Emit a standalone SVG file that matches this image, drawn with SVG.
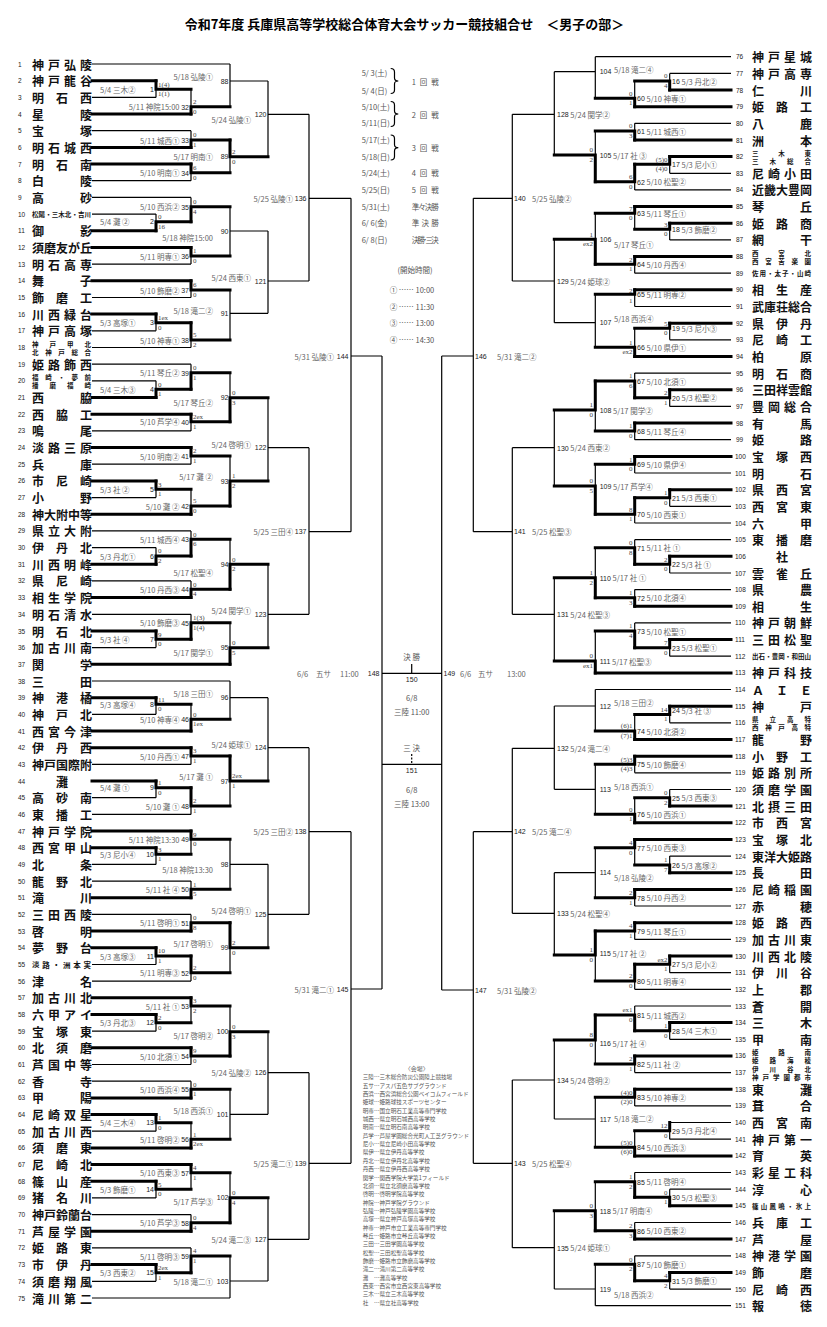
<svg xmlns="http://www.w3.org/2000/svg" width="827" height="1327" viewBox="0 0 827 1327">
<style>
text{font-family:"Noto Sans CJK JP","Noto Sans",sans-serif;dominant-baseline:central}
.nm{font-size:12px;font-weight:700;fill:#111}
.sm{font-size:6.5px;font-weight:700;fill:#111}
.no{font-family:"Liberation Sans",sans-serif;font-size:6.5px;fill:#222}
.lb{font-size:7.5px;fill:#666}
.mn{font-family:"Liberation Sans",sans-serif;font-size:7px;fill:#222}
.sc{font-family:"Liberation Serif",serif;font-size:7px;fill:#444}
.lg{font-size:7.5px;fill:#555}
.vn{font-size:5.6px;fill:#555}
.ttl{font-size:13px;font-weight:700;fill:#000}
.e{text-anchor:end}
.c{text-anchor:middle}
.th{fill:none;stroke:#000;stroke-width:1.2}
.tk{fill:none;stroke:#000;stroke-width:3;stroke-linecap:square}
</style>
<rect width="827" height="1327" fill="#fff"/>
<text class="ttl c" x="404.5" y="23">令和7年度 兵庫県高等学校総合体育大会サッカー競技組合せ　＜男子の部＞</text>

<g id="connectors">
<path class="th" d="M92 64H230M92 97.4H156M92 130.7H191M92 180.7H191M92 197.4H191M92 214.1H156M92 264.1H191M92 297.5H191M92 330.8H156M92 347.5H191M92 364.2H191M92 380.8H156M92 430.9H191M92 464.2H191M92 497.6H156M92 530.9H191M92 547.6H156M92 580.9H191M92 614.3H191M92 647.6H156M92 681H230M92 714.3H156M92 764.4H191M92 797.7H156M92 814.4H191M92 864.4H156M92 881.1H191M92 914.4H191M92 964.5H156M92 981.1H191M92 1031.2H156M92 1064.5H191M92 1081.2H191M92 1131.2H156M92 1197.9H156M92 1214.6H191M92 1247.9H191M92 1281.3H156M92 1298H230"/>
<path class="tk" d="M92 80.7H156M92 114H191M92 147.4H191M92 164.1H191M92 230.8H156M92 247.4H191M92 280.8H191M92 314.1H156M92 397.5H156M92 414.2H191M92 447.5H191M92 480.9H156M92 514.2H191M92 564.3H156M92 597.6H191M92 631H156M92 664.3H230M92 697.7H156M92 731H191M92 747.7H191M92 781H156M92 831.1H191M92 847.7H156M92 897.8H191M92 931.1H191M92 947.8H156M92 997.8H191M92 1014.5H156M92 1047.8H191M92 1097.9H191M92 1114.5H156M92 1147.9H191M92 1164.6H191M92 1181.2H156M92 1231.3H191M92 1264.6H156"/>
<path class="tk" d="M156 80.7V89.3H191M156 230.8V221.7H191M156 314.1V322.7H191M156 397.5V389.3H191M156 480.9V489.3H191M156 564.3V556H191M156 631V639.3H191M156 697.7V704.3H191M156 781V787.7H191M156 847.7V854.3H191M156 947.8V956H191M156 1014.5V1022.7H191M156 1114.5V1122.7H191M156 1181.2V1189.3H191M156 1264.6V1272.7H191"/>
<path class="th" d="M156 89.3V97.4M156 214.1V221.7M156 322.7V330.8M156 380.8V389.3M156 489.3V497.6M156 547.6V556M156 639.3V647.6M156 704.3V714.3M156 787.7V797.7M156 854.3V864.4M156 956V964.5M156 1022.7V1031.2M156 1122.7V1131.2M156 1189.3V1197.9M156 1272.7V1281.3"/>
<path class="tk" d="M191 114V106.7H230M191 147.4V140H230M191 164.1V172.7H230M191 221.7V206.7H230M191 247.4V256H230M191 280.8V290H230M191 322.7V340H230M191 389.3V372.7H230M191 414.2V421.7H230M191 447.5V456H230M191 514.2V506H230M191 556V539.3H230M191 597.6V589.3H230M191 639.3V622.7H230M191 731V719.3H230M191 747.7V756H230M191 787.7V806H230M191 831.1V839.3H230M191 897.8V889.3H230M191 931.1V922.7H230M191 956V972.7H230M191 997.8V1006H230M191 1047.8V1056H230M191 1097.9V1089.3H230M191 1147.9V1139.3H230M191 1164.6V1172.7H230M191 1231.3V1222.7H230M191 1272.7V1256H230"/>
<path class="th" d="M191 89.3V106.7M191 130.7V140M191 172.7V180.7M191 197.4V206.7M191 256V264.1M191 290V297.5M191 340V347.5M191 364.2V372.7M191 421.7V430.9M191 456V464.2M191 489.3V506M191 530.9V539.3M191 580.9V589.3M191 614.3V622.7M191 704.3V719.3M191 756V764.4M191 806V814.4M191 839.3V854.3M191 881.1V889.3M191 914.4V922.7M191 972.7V981.1M191 1006V1022.7M191 1056V1064.5M191 1081.2V1089.3M191 1122.7V1139.3M191 1172.7V1189.3M191 1214.6V1222.7M191 1247.9V1256"/>
<path class="tk" d="M230 140V156.7H268M230 421.7V397.7H268M230 506V481H268M230 589.3V564.3H268M230 664.3V647.7H268M230 756V781H268M230 922.7V947.7H268M230 1056V1031.7H268M230 1222.7V1197.7H268"/>
<path class="th" d="M230 64V106.7M230 81H268M230 156.7V172.7M230 206.7V256M230 231H268M230 290V340M230 313.3H268M230 372.7V397.7M230 456V481M230 539.3V564.3M230 622.7V647.7M230 681V719.3M230 697.7H268M230 781V806M230 839.3V889.3M230 864.3H268M230 947.7V972.7M230 1006V1031.7M230 1089.3V1139.3M230 1114.3H268M230 1172.7V1197.7M230 1256V1298M230 1281H268"/>
<path class="th" d="M268 81V156.7M268 114.3H309M268 231V313.3M268 281H309M268 397.7V481M268 447.7H309M268 564.3V647.7M268 614.3H309M268 697.7V781M268 747.7H309M268 864.3V947.7M268 914.3H309M268 1031.7V1114.3M268 1072.7H309M268 1197.7V1281M268 1239.3H309M309 114.3V281M309 198.3H351M309 447.7V614.3M309 531.7H351M309 747.7V914.3M309 831.7H351M309 1072.7V1239.3M309 1163.3H351M351 198.3V531.7M351 356H382M351 831.7V1163.3M351 989H382M382 356V989M382 673.3H441.7M382 764.3H441.7M441.7 356V990"/>
<path class="th" d="M411.7 664V673.3"/>
<path class="th" d="M411.7 754V763.5" stroke-dasharray="2 1.5"/>
<path class="th" d="M731 56.7H595.3M731 73.4H669.7M731 123.3H634.7M731 173.3H669.7M731 189.9H634.7M731 239.9H669.7M731 273.2H634.7M731 306.5H634.7M731 339.8H669.7M731 373.1H634.7M731 406.4H669.7M731 439.7H634.7M731 473H634.7M731 506.3H669.7M731 523H634.7M731 539.7H634.7M731 573H669.7M731 589.6H634.7M731 622.9H634.7M731 656.2H669.7M731 689.5H595.3M731 722.8H669.7M731 772.8H634.7M731 789.5H669.7M731 856.1H669.7M731 906H634.7M731 939.4H634.7M731 972.7H669.7M731 989.3H634.7M731 1006H634.7M731 1039.3H669.7M731 1072.6H634.7M731 1105.9H634.7M731 1122.5H669.7M731 1139.2H669.7M731 1172.5H634.7M731 1189.2H669.7M731 1222.5H634.7M731 1255.8H634.7M731 1289.1H669.7M731 1305.7H595.3"/>
<path class="tk" d="M731 90H669.7M731 106.7H634.7M731 140H634.7M731 156.6H669.7M731 206.6H634.7M731 223.2H669.7M731 256.5H634.7M731 289.8H634.7M731 323.2H669.7M731 356.5H634.7M731 389.8H669.7M731 423.1H634.7M731 456.4H634.7M731 489.7H669.7M731 556.3H669.7M731 606.3H634.7M731 639.6H669.7M731 672.9H595.3M731 706.2H669.7M731 739.5H634.7M731 756.2H634.7M731 806.1H669.7M731 822.8H634.7M731 839.4H634.7M731 872.7H669.7M731 889.4H634.7M731 922.7H634.7M731 956H669.7M731 1022.6H669.7M731 1055.9H634.7M731 1089.2H634.7M731 1155.9H634.7M731 1205.8H669.7M731 1239.1H634.7M731 1272.4H669.7"/>
<path class="tk" d="M669.7 90V81H634.7M669.7 156.6V164.3H634.7M669.7 223.2V229.3H634.7M669.7 323.2V328.3H634.7M669.7 389.8V397.7H634.7M669.7 489.7V497.7H634.7M669.7 556.3V564.3H634.7M669.7 639.6V647.7H634.7M669.7 706.2V714.5H634.7M669.7 806.1V797.7H634.7M669.7 872.7V865H634.7M669.7 956V964.3H634.7M669.7 1022.6V1030.7H634.7M669.7 1122.5V1130.7H634.7M669.7 1205.8V1197.3H634.7M669.7 1272.4V1280.7H634.7"/>
<path class="th" d="M669.7 73.4V81M669.7 164.3V173.3M669.7 229.3V239.9M669.7 328.3V339.8M669.7 397.7V406.4M669.7 497.7V506.3M669.7 564.3V573M669.7 647.7V656.2M669.7 714.5V722.8M669.7 789.5V797.7M669.7 856.1V865M669.7 964.3V972.7M669.7 1030.7V1039.3M669.7 1130.7V1139.2M669.7 1189.2V1197.3M669.7 1280.7V1289.1"/>
<path class="tk" d="M634.7 106.7V98.3H595.3M634.7 140V131H595.3M634.7 164.3V181.7H595.3M634.7 206.6V213.3H595.3M634.7 256.5V264.3H595.3M634.7 289.8V294.3H595.3M634.7 356.5V347.3H595.3M634.7 397.7V381H595.3M634.7 423.1V431H595.3M634.7 456.4V464.3H595.3M634.7 497.7V514.3H595.3M634.7 564.3V547.7H595.3M634.7 606.3V597.7H595.3M634.7 647.7V631H595.3M634.7 739.5V731H595.3M634.7 756.2V764.3H595.3M634.7 822.8V814.3H595.3M634.7 839.4V847.7H595.3M634.7 889.4V897.7H595.3M634.7 922.7V931H595.3M634.7 964.3V981H595.3M634.7 1030.7V1015H595.3M634.7 1055.9V1064H595.3M634.7 1089.2V1097.3H595.3M634.7 1155.9V1147.3H595.3M634.7 1197.3V1181.7H595.3M634.7 1239.1V1230.7H595.3M634.7 1280.7V1264.3H595.3"/>
<path class="th" d="M634.7 81V98.3M634.7 123.3V131M634.7 181.7V189.9M634.7 213.3V229.3M634.7 264.3V273.2M634.7 294.3V306.5M634.7 328.3V347.3M634.7 373.1V381M634.7 431V439.7M634.7 464.3V473M634.7 514.3V523M634.7 539.7V547.7M634.7 589.6V597.7M634.7 622.9V631M634.7 714.5V731M634.7 764.3V772.8M634.7 797.7V814.3M634.7 847.7V865M634.7 897.7V906M634.7 931V939.4M634.7 981V989.3M634.7 1006V1015M634.7 1064V1072.6M634.7 1097.3V1105.9M634.7 1130.7V1147.3M634.7 1172.5V1181.7M634.7 1222.5V1230.7M634.7 1255.8V1264.3"/>
<path class="tk" d="M595.3 181.7V155H554.3M595.3 264.3V239.3H554.3M595.3 381V410H554.3M595.3 514.3V486H554.3M595.3 597.7V577.7H554.3M595.3 672.9V661H554.3M595.3 931V955H554.3M595.3 1015V1040H554.3M595.3 1230.7V1210.7H554.3"/>
<path class="th" d="M595.3 56.7V98.3M595.3 71.7H554.3M595.3 131V155M595.3 213.3V239.3M595.3 294.3V347.3M595.3 322.7H554.3M595.3 410V431M595.3 464.3V486M595.3 547.7V577.7M595.3 631V661M595.3 689.5V731M595.3 706H554.3M595.3 764.3V814.3M595.3 789.3H554.3M595.3 847.7V897.7M595.3 872.7H554.3M595.3 955V981M595.3 1040V1064M595.3 1097.3V1147.3M595.3 1119H554.3M595.3 1181.7V1210.7M595.3 1264.3V1305.7M595.3 1289H554.3"/>
<path class="th" d="M554.3 71.7V155M554.3 114.3H512.3M554.3 239.3V322.7M554.3 281H512.3M554.3 410V486M554.3 447.7H512.3M554.3 577.7V661M554.3 614.3H512.3M554.3 706V789.3M554.3 748.3H512.3M554.3 872.7V955M554.3 913.3H512.3M554.3 1040V1119M554.3 1080H512.3M554.3 1210.7V1289M554.3 1247.7H512.3M512.3 114.3V281M512.3 198.3H473.3M512.3 447.7V614.3M512.3 531.7H473.3M512.3 748.3V913.3M512.3 831.7H473.3M512.3 1080V1247.7M512.3 1163.3H473.3M473.3 198.3V531.7M473.3 356H441.7M473.3 831.7V1163.3M473.3 990H441.7"/>
<path class="th" d="M390.7 68.5Q394.5 68.5 394.5 72V78Q394.5 81 398.3 81Q394.5 81 394.5 84V90Q394.5 93.5 390.7 93.5M390.7 101.5Q394.5 101.5 394.5 105V111Q394.5 114 398.3 114Q394.5 114 394.5 117V123Q394.5 126.5 390.7 126.5M390.7 135Q394.5 135 394.5 138.5V144.5Q394.5 147.7 398.3 147.7Q394.5 147.7 394.5 151V156.5Q394.5 160 390.7 160" stroke-width="1"/>
</g>

<g id="teams-left">
<g id="t1"><text class="no" x="18" y="64">1</text><text class="nm" x="32 48 64 80" y="64">神戸弘陵</text></g>
<g id="t2"><text class="no" x="18" y="80.7">2</text><text class="nm" x="32 48 64 80" y="80.7">神戸龍谷</text></g>
<g id="t3"><text class="no" x="18" y="97.4">3</text><text class="nm" x="32 56 80" y="97.4">明石西</text></g>
<g id="t4"><text class="no" x="18" y="114">4</text><text class="nm" x="32 80" y="114">星陵</text></g>
<g id="t5"><text class="no" x="18" y="130.7">5</text><text class="nm" x="32 80" y="130.7">宝塚</text></g>
<g id="t6"><text class="no" x="18" y="147.4">6</text><text class="nm" x="32 48 64 80" y="147.4">明石城西</text></g>
<g id="t7"><text class="no" x="18" y="164.1">7</text><text class="nm" x="32 56 80" y="164.1">明石南</text></g>
<g id="t8"><text class="no" x="18" y="180.7">8</text><text class="nm" x="32 80" y="180.7">白陵</text></g>
<g id="t9"><text class="no" x="18" y="197.4">9</text><text class="nm" x="32 80" y="197.4">高砂</text></g>
<g id="t10"><text class="no" x="18" y="214.1">10</text><text class="sm" x="32" y="214.1" textLength="59" lengthAdjust="spacing">松陽・三木北・吉川</text></g>
<g id="t11"><text class="no" x="18" y="230.8">11</text><text class="nm" x="32 80" y="230.8">御影</text></g>
<g id="t12"><text class="no" x="18" y="247.4">12</text><text class="nm" x="32 44 56 68 80" y="247.4">須磨友が丘</text></g>
<g id="t13"><text class="no" x="18" y="264.1">13</text><text class="nm" x="32 48 64 80" y="264.1">明石高専</text></g>
<g id="t14"><text class="no" x="18" y="280.8">14</text><text class="nm" x="32 80" y="280.8">舞子</text></g>
<g id="t15"><text class="no" x="18" y="297.5">15</text><text class="nm" x="32 56 80" y="297.5">飾磨工</text></g>
<g id="t16"><text class="no" x="18" y="314.1">16</text><text class="nm" x="32 48 64 80" y="314.1">川西緑台</text></g>
<g id="t17"><text class="no" x="18" y="330.8">17</text><text class="nm" x="32 48 64 80" y="330.8">神戸高塚</text></g>
<g id="t18"><text class="no" x="18" y="347.5">18</text><text class="sm" x="32" y="343.5" textLength="59" lengthAdjust="spacing">神戸甲北</text><text class="sm" x="32" y="351.5" textLength="59" lengthAdjust="spacing">北神戸総合</text></g>
<g id="t19"><text class="no" x="18" y="364.2">19</text><text class="nm" x="32 48 64 80" y="364.2">姫路飾西</text></g>
<g id="t20"><text class="no" x="18" y="380.8">20</text><text class="sm" x="32" y="376.8" textLength="59" lengthAdjust="spacing">福崎・夢前</text><text class="sm" x="32" y="384.8" textLength="59" lengthAdjust="spacing">播磨福崎</text></g>
<g id="t21"><text class="no" x="18" y="397.5">21</text><text class="nm" x="32 80" y="397.5">西脇</text></g>
<g id="t22"><text class="no" x="18" y="414.2">22</text><text class="nm" x="32 56 80" y="414.2">西脇工</text></g>
<g id="t23"><text class="no" x="18" y="430.9">23</text><text class="nm" x="32 80" y="430.9">鳴尾</text></g>
<g id="t24"><text class="no" x="18" y="447.5">24</text><text class="nm" x="32 48 64 80" y="447.5">淡路三原</text></g>
<g id="t25"><text class="no" x="18" y="464.2">25</text><text class="nm" x="32 80" y="464.2">兵庫</text></g>
<g id="t26"><text class="no" x="18" y="480.9">26</text><text class="nm" x="32 56 80" y="480.9">市尼崎</text></g>
<g id="t27"><text class="no" x="18" y="497.6">27</text><text class="nm" x="32 80" y="497.6">小野</text></g>
<g id="t28"><text class="no" x="18" y="514.2">28</text><text class="nm" x="32 44 56 68 80" y="514.2">神大附中等</text></g>
<g id="t29"><text class="no" x="18" y="530.9">29</text><text class="nm" x="32 48 64 80" y="530.9">県立大附</text></g>
<g id="t30"><text class="no" x="18" y="547.6">30</text><text class="nm" x="32 56 80" y="547.6">伊丹北</text></g>
<g id="t31"><text class="no" x="18" y="564.3">31</text><text class="nm" x="32 48 64 80" y="564.3">川西明峰</text></g>
<g id="t32"><text class="no" x="18" y="580.9">32</text><text class="nm" x="32 56 80" y="580.9">県尼崎</text></g>
<g id="t33"><text class="no" x="18" y="597.6">33</text><text class="nm" x="32 48 64 80" y="597.6">相生学院</text></g>
<g id="t34"><text class="no" x="18" y="614.3">34</text><text class="nm" x="32 48 64 80" y="614.3">明石清水</text></g>
<g id="t35"><text class="no" x="18" y="631">35</text><text class="nm" x="32 56 80" y="631">明石北</text></g>
<g id="t36"><text class="no" x="18" y="647.6">36</text><text class="nm" x="32 48 64 80" y="647.6">加古川南</text></g>
<g id="t37"><text class="no" x="18" y="664.3">37</text><text class="nm" x="32 80" y="664.3">関学</text></g>
<g id="t38"><text class="no" x="18" y="681">38</text><text class="nm" x="32 80" y="681">三田</text></g>
<g id="t39"><text class="no" x="18" y="697.7">39</text><text class="nm" x="32 56 80" y="697.7">神港橘</text></g>
<g id="t40"><text class="no" x="18" y="714.3">40</text><text class="nm" x="32 56 80" y="714.3">神戸北</text></g>
<g id="t41"><text class="no" x="18" y="731">41</text><text class="nm" x="32 48 64 80" y="731">西宮今津</text></g>
<g id="t42"><text class="no" x="18" y="747.7">42</text><text class="nm" x="32 56 80" y="747.7">伊丹西</text></g>
<g id="t43"><text class="no" x="18" y="764.4">43</text><text class="nm" x="32 44 56 68 80" y="764.4">神戸国際附</text></g>
<g id="t44"><text class="no" x="18" y="781">44</text><text class="nm" x="56" y="781">灘</text></g>
<g id="t45"><text class="no" x="18" y="797.7">45</text><text class="nm" x="32 56 80" y="797.7">高砂南</text></g>
<g id="t46"><text class="no" x="18" y="814.4">46</text><text class="nm" x="32 56 80" y="814.4">東播工</text></g>
<g id="t47"><text class="no" x="18" y="831.1">47</text><text class="nm" x="32 48 64 80" y="831.1">神戸学院</text></g>
<g id="t48"><text class="no" x="18" y="847.7">48</text><text class="nm" x="32 48 64 80" y="847.7">西宮甲山</text></g>
<g id="t49"><text class="no" x="18" y="864.4">49</text><text class="nm" x="32 80" y="864.4">北条</text></g>
<g id="t50"><text class="no" x="18" y="881.1">50</text><text class="nm" x="32 56 80" y="881.1">龍野北</text></g>
<g id="t51"><text class="no" x="18" y="897.8">51</text><text class="nm" x="32 80" y="897.8">滝川</text></g>
<g id="t52"><text class="no" x="18" y="914.4">52</text><text class="nm" x="32 48 64 80" y="914.4">三田西陵</text></g>
<g id="t53"><text class="no" x="18" y="931.1">53</text><text class="nm" x="32 80" y="931.1">啓明</text></g>
<g id="t54"><text class="no" x="18" y="947.8">54</text><text class="nm" x="32 56 80" y="947.8">夢野台</text></g>
<g id="t55"><text class="no" x="18" y="964.5">55</text><text class="sm" x="32" y="964.5" textLength="59" lengthAdjust="spacing" style="font-size:7.5px">淡路・洲本実</text></g>
<g id="t56"><text class="no" x="18" y="981.1">56</text><text class="nm" x="32 80" y="981.1">津名</text></g>
<g id="t57"><text class="no" x="18" y="997.8">57</text><text class="nm" x="32 48 64 80" y="997.8">加古川北</text></g>
<g id="t58"><text class="no" x="18" y="1014.5">58</text><text class="nm" x="32 48 64 80" y="1014.5">六甲アイ</text></g>
<g id="t59"><text class="no" x="18" y="1031.2">59</text><text class="nm" x="32 56 80" y="1031.2">宝塚東</text></g>
<g id="t60"><text class="no" x="18" y="1047.8">60</text><text class="nm" x="32 56 80" y="1047.8">北須磨</text></g>
<g id="t61"><text class="no" x="18" y="1064.5">61</text><text class="nm" x="32 48 64 80" y="1064.5">芦国中等</text></g>
<g id="t62"><text class="no" x="18" y="1081.2">62</text><text class="nm" x="32 80" y="1081.2">香寺</text></g>
<g id="t63"><text class="no" x="18" y="1097.9">63</text><text class="nm" x="32 80" y="1097.9">甲陽</text></g>
<g id="t64"><text class="no" x="18" y="1114.5">64</text><text class="nm" x="32 48 64 80" y="1114.5">尼崎双星</text></g>
<g id="t65"><text class="no" x="18" y="1131.2">65</text><text class="nm" x="32 48 64 80" y="1131.2">加古川西</text></g>
<g id="t66"><text class="no" x="18" y="1147.9">66</text><text class="nm" x="32 56 80" y="1147.9">須磨東</text></g>
<g id="t67"><text class="no" x="18" y="1164.6">67</text><text class="nm" x="32 56 80" y="1164.6">尼崎北</text></g>
<g id="t68"><text class="no" x="18" y="1181.2">68</text><text class="nm" x="32 56 80" y="1181.2">篠山産</text></g>
<g id="t69"><text class="no" x="18" y="1197.9">69</text><text class="nm" x="32 56 80" y="1197.9">猪名川</text></g>
<g id="t70"><text class="no" x="18" y="1214.6">70</text><text class="nm" x="32 44 56 68 80" y="1214.6">神戸鈴蘭台</text></g>
<g id="t71"><text class="no" x="18" y="1231.3">71</text><text class="nm" x="32 48 64 80" y="1231.3">芦屋学園</text></g>
<g id="t72"><text class="no" x="18" y="1247.9">72</text><text class="nm" x="32 56 80" y="1247.9">姫路東</text></g>
<g id="t73"><text class="no" x="18" y="1264.6">73</text><text class="nm" x="32 56 80" y="1264.6">市伊丹</text></g>
<g id="t74"><text class="no" x="18" y="1281.3">74</text><text class="nm" x="32 48 64 80" y="1281.3">須磨翔風</text></g>
<g id="t75"><text class="no" x="18" y="1298">75</text><text class="nm" x="32 48 64 80" y="1298">滝川第二</text></g>
</g>

<g id="teams-right">
<g id="t76"><text class="no" x="736" y="56.7">76</text><text class="nm" x="752 768 784 800" y="56.7">神戸星城</text></g>
<g id="t77"><text class="no" x="736" y="73.4">77</text><text class="nm" x="752 768 784 800" y="73.4">神戸高専</text></g>
<g id="t78"><text class="no" x="736" y="90">78</text><text class="nm" x="752 800" y="90">仁川</text></g>
<g id="t79"><text class="no" x="736" y="106.7">79</text><text class="nm" x="752 776 800" y="106.7">姫路工</text></g>
<g id="t80"><text class="no" x="736" y="123.3">80</text><text class="nm" x="752 800" y="123.3">八鹿</text></g>
<g id="t81"><text class="no" x="736" y="140">81</text><text class="nm" x="752 800" y="140">洲本</text></g>
<g id="t82"><text class="no" x="736" y="156.6">82</text><text class="sm" x="752" y="152.6" textLength="59" lengthAdjust="spacing">三木東</text><text class="sm" x="752" y="160.6" textLength="59" lengthAdjust="spacing">三木総合</text></g>
<g id="t83"><text class="no" x="736" y="173.3">83</text><text class="nm" x="752 768 784 800" y="173.3">尼崎小田</text></g>
<g id="t84"><text class="no" x="736" y="189.9">84</text><text class="nm" x="752 764 776 788 800" y="189.9">近畿大豊岡</text></g>
<g id="t85"><text class="no" x="736" y="206.6">85</text><text class="nm" x="752 800" y="206.6">琴丘</text></g>
<g id="t86"><text class="no" x="736" y="223.2">86</text><text class="nm" x="752 776 800" y="223.2">姫路商</text></g>
<g id="t87"><text class="no" x="736" y="239.9">87</text><text class="nm" x="752 800" y="239.9">網干</text></g>
<g id="t88"><text class="no" x="736" y="256.5">88</text><text class="sm" x="752" y="252.5" textLength="59" lengthAdjust="spacing">西宮北</text><text class="sm" x="752" y="260.5" textLength="59" lengthAdjust="spacing">西宮苦楽園</text></g>
<g id="t89"><text class="no" x="736" y="273.2">89</text><text class="sm" x="752" y="273.2" textLength="59" lengthAdjust="spacing">佐用・太子・山崎</text></g>
<g id="t90"><text class="no" x="736" y="289.8">90</text><text class="nm" x="752 776 800" y="289.8">相生産</text></g>
<g id="t91"><text class="no" x="736" y="306.5">91</text><text class="nm" x="752 764 776 788 800" y="306.5">武庫荘総合</text></g>
<g id="t92"><text class="no" x="736" y="323.2">92</text><text class="nm" x="752 776 800" y="323.2">県伊丹</text></g>
<g id="t93"><text class="no" x="736" y="339.8">93</text><text class="nm" x="752 776 800" y="339.8">尼崎工</text></g>
<g id="t94"><text class="no" x="736" y="356.5">94</text><text class="nm" x="752 800" y="356.5">柏原</text></g>
<g id="t95"><text class="no" x="736" y="373.1">95</text><text class="nm" x="752 776 800" y="373.1">明石商</text></g>
<g id="t96"><text class="no" x="736" y="389.8">96</text><text class="nm" x="752 764 776 788 800" y="389.8">三田祥雲館</text></g>
<g id="t97"><text class="no" x="736" y="406.4">97</text><text class="nm" x="752 768 784 800" y="406.4">豊岡総合</text></g>
<g id="t98"><text class="no" x="736" y="423.1">98</text><text class="nm" x="752 800" y="423.1">有馬</text></g>
<g id="t99"><text class="no" x="736" y="439.7">99</text><text class="nm" x="752 800" y="439.7">姫路</text></g>
<g id="t100"><text class="no" x="735" y="456.4">100</text><text class="nm" x="752 776 800" y="456.4">宝塚西</text></g>
<g id="t101"><text class="no" x="735" y="473">101</text><text class="nm" x="752 800" y="473">明石</text></g>
<g id="t102"><text class="no" x="735" y="489.7">102</text><text class="nm" x="752 776 800" y="489.7">県西宮</text></g>
<g id="t103"><text class="no" x="735" y="506.3">103</text><text class="nm" x="752 776 800" y="506.3">西宮東</text></g>
<g id="t104"><text class="no" x="735" y="523">104</text><text class="nm" x="752 800" y="523">六甲</text></g>
<g id="t105"><text class="no" x="735" y="539.7">105</text><text class="nm" x="752 776 800" y="539.7">東播磨</text></g>
<g id="t106"><text class="no" x="735" y="556.3">106</text><text class="nm" x="776" y="556.3">社</text></g>
<g id="t107"><text class="no" x="735" y="573">107</text><text class="nm" x="752 776 800" y="573">雲雀丘</text></g>
<g id="t108"><text class="no" x="735" y="589.6">108</text><text class="nm" x="752 800" y="589.6">県農</text></g>
<g id="t109"><text class="no" x="735" y="606.3">109</text><text class="nm" x="752 800" y="606.3">相生</text></g>
<g id="t110"><text class="no" x="735" y="622.9">110</text><text class="nm" x="752 768 784 800" y="622.9">神戸朝鮮</text></g>
<g id="t111"><text class="no" x="735" y="639.6">111</text><text class="nm" x="752 768 784 800" y="639.6">三田松聖</text></g>
<g id="t112"><text class="no" x="735" y="656.2">112</text><text class="sm" x="752" y="656.2" textLength="59" lengthAdjust="spacing">出石・豊岡・和田山</text></g>
<g id="t113"><text class="no" x="735" y="672.9">113</text><text class="nm" x="752 768 784 800" y="672.9">神戸科技</text></g>
<g id="t114"><text class="no" x="735" y="689.5">114</text><text class="nm" x="752 776 800" y="689.5">ＡＩＥ</text></g>
<g id="t115"><text class="no" x="735" y="706.2">115</text><text class="nm" x="752 800" y="706.2">神戸</text></g>
<g id="t116"><text class="no" x="735" y="722.8">116</text><text class="sm" x="752" y="718.8" textLength="59" lengthAdjust="spacing">県立高特</text><text class="sm" x="752" y="726.8" textLength="59" lengthAdjust="spacing">西神戸高特</text></g>
<g id="t117"><text class="no" x="735" y="739.5">117</text><text class="nm" x="752 800" y="739.5">龍野</text></g>
<g id="t118"><text class="no" x="735" y="756.2">118</text><text class="nm" x="752 776 800" y="756.2">小野工</text></g>
<g id="t119"><text class="no" x="735" y="772.8">119</text><text class="nm" x="752 768 784 800" y="772.8">姫路別所</text></g>
<g id="t120"><text class="no" x="735" y="789.5">120</text><text class="nm" x="752 768 784 800" y="789.5">須磨学園</text></g>
<g id="t121"><text class="no" x="735" y="806.1">121</text><text class="nm" x="752 768 784 800" y="806.1">北摂三田</text></g>
<g id="t122"><text class="no" x="735" y="822.8">122</text><text class="nm" x="752 776 800" y="822.8">市西宮</text></g>
<g id="t123"><text class="no" x="735" y="839.4">123</text><text class="nm" x="752 776 800" y="839.4">宝塚北</text></g>
<g id="t124"><text class="no" x="735" y="856.1">124</text><text class="nm" x="752 764 776 788 800" y="856.1">東洋大姫路</text></g>
<g id="t125"><text class="no" x="735" y="872.7">125</text><text class="nm" x="752 800" y="872.7">長田</text></g>
<g id="t126"><text class="no" x="735" y="889.4">126</text><text class="nm" x="752 768 784 800" y="889.4">尼崎稲園</text></g>
<g id="t127"><text class="no" x="735" y="906">127</text><text class="nm" x="752 800" y="906">赤穂</text></g>
<g id="t128"><text class="no" x="735" y="922.7">128</text><text class="nm" x="752 776 800" y="922.7">姫路西</text></g>
<g id="t129"><text class="no" x="735" y="939.4">129</text><text class="nm" x="752 768 784 800" y="939.4">加古川東</text></g>
<g id="t130"><text class="no" x="735" y="956">130</text><text class="nm" x="752 768 784 800" y="956">川西北陵</text></g>
<g id="t131"><text class="no" x="735" y="972.7">131</text><text class="nm" x="752 776 800" y="972.7">伊川谷</text></g>
<g id="t132"><text class="no" x="735" y="989.3">132</text><text class="nm" x="752 800" y="989.3">上郡</text></g>
<g id="t133"><text class="no" x="735" y="1006">133</text><text class="nm" x="752 800" y="1006">蒼開</text></g>
<g id="t134"><text class="no" x="735" y="1022.6">134</text><text class="nm" x="752 800" y="1022.6">三木</text></g>
<g id="t135"><text class="no" x="735" y="1039.3">135</text><text class="nm" x="752 800" y="1039.3">甲南</text></g>
<g id="t136"><text class="no" x="735" y="1055.9">136</text><text class="sm" x="752" y="1052" textLength="59" lengthAdjust="spacing">姫路南</text><text class="sm" x="752" y="1060" textLength="59" lengthAdjust="spacing">姫路海稜</text></g>
<g id="t137"><text class="no" x="735" y="1072.6">137</text><text class="sm" x="752" y="1068.6" textLength="59" lengthAdjust="spacing">伊川谷北</text><text class="sm" x="752" y="1076.6" textLength="59" lengthAdjust="spacing">神戸学園都市</text></g>
<g id="t138"><text class="no" x="735" y="1089.2">138</text><text class="nm" x="752 800" y="1089.2">東灘</text></g>
<g id="t139"><text class="no" x="735" y="1105.9">139</text><text class="nm" x="752 800" y="1105.9">葺合</text></g>
<g id="t140"><text class="no" x="735" y="1122.5">140</text><text class="nm" x="752 776 800" y="1122.5">西宮南</text></g>
<g id="t141"><text class="no" x="735" y="1139.2">141</text><text class="nm" x="752 768 784 800" y="1139.2">神戸第一</text></g>
<g id="t142"><text class="no" x="735" y="1155.9">142</text><text class="nm" x="752 800" y="1155.9">育英</text></g>
<g id="t143"><text class="no" x="735" y="1172.5">143</text><text class="nm" x="752 768 784 800" y="1172.5">彩星工科</text></g>
<g id="t144"><text class="no" x="735" y="1189.2">144</text><text class="nm" x="752 800" y="1189.2">淳心</text></g>
<g id="t145"><text class="no" x="735" y="1205.8">145</text><text class="sm" x="752" y="1205.8" textLength="59" lengthAdjust="spacing">篠山鳳鳴・氷上</text></g>
<g id="t146"><text class="no" x="735" y="1222.5">146</text><text class="nm" x="752 776 800" y="1222.5">兵庫工</text></g>
<g id="t147"><text class="no" x="735" y="1239.1">147</text><text class="nm" x="752 800" y="1239.1">芦屋</text></g>
<g id="t148"><text class="no" x="735" y="1255.8">148</text><text class="nm" x="752 768 784 800" y="1255.8">神港学園</text></g>
<g id="t149"><text class="no" x="735" y="1272.4">149</text><text class="nm" x="752 800" y="1272.4">飾磨</text></g>
<g id="t150"><text class="no" x="735" y="1289.1">150</text><text class="nm" x="752 776 800" y="1289.1">尼崎西</text></g>
<g id="t151"><text class="no" x="735" y="1305.7">151</text><text class="nm" x="752 800" y="1305.7">報徳</text></g>
</g>

<g id="matches-left">
<g id="m1"><text class="lb" x="100" y="89.3">5/4 三木②</text><text class="mn e" x="154" y="89.3">1</text><text class="sc" x="158" y="84.5">1(4)</text><text class="sc" x="158" y="94.1">1(1)</text></g>
<g id="m2"><text class="lb" x="100" y="221.7">5/4 灘 ②</text><text class="mn e" x="154" y="221.7">2</text><text class="sc" x="158" y="216.9">0</text><text class="sc" x="158" y="226.5">16</text></g>
<g id="m3"><text class="lb" x="100" y="322.7">5/3 高塚①</text><text class="mn e" x="154" y="322.7">3</text><text class="sc" x="158" y="317.9">1ex</text><text class="sc" x="158" y="327.5">0</text></g>
<g id="m4"><text class="lb" x="100" y="389.3">5/4 三木③</text><text class="mn e" x="154" y="389.3">4</text><text class="sc" x="158" y="384.5">0</text><text class="sc" x="158" y="394.1">1</text></g>
<g id="m5"><text class="lb" x="100" y="489.3">5/3 社 ②</text><text class="mn e" x="154" y="489.3">5</text><text class="sc" x="158" y="484.5">3</text><text class="sc" x="158" y="494.1">1</text></g>
<g id="m6"><text class="lb" x="100" y="556">5/3 丹北①</text><text class="mn e" x="154" y="556">6</text><text class="sc" x="158" y="551.2">0</text><text class="sc" x="158" y="560.8">2</text></g>
<g id="m7"><text class="lb" x="100" y="639.3">5/3 社 ④</text><text class="mn e" x="154" y="639.3">7</text><text class="sc" x="158" y="634.5">9</text><text class="sc" x="158" y="644.1">0</text></g>
<g id="m8"><text class="lb" x="100" y="704.3">5/3 高塚④</text><text class="mn e" x="154" y="704.3">8</text><text class="sc" x="158" y="699.5">11</text><text class="sc" x="158" y="709.1">0</text></g>
<g id="m9"><text class="lb" x="100" y="787.7">5/4 灘 ①</text><text class="mn e" x="154" y="787.7">9</text><text class="sc" x="158" y="782.9">1</text><text class="sc" x="158" y="792.5">0</text></g>
<g id="m10"><text class="lb" x="100" y="854.3">5/3 尼小④</text><text class="mn e" x="154" y="854.3">10</text><text class="sc" x="158" y="849.5">3</text><text class="sc" x="158" y="859.1">1</text></g>
<g id="m11"><text class="lb" x="100" y="956">5/3 高塚③</text><text class="mn e" x="154" y="956">11</text><text class="sc" x="158" y="951.2">10</text><text class="sc" x="158" y="960.8">1</text></g>
<g id="m12"><text class="lb" x="100" y="1022.7">5/3 丹北③</text><text class="mn e" x="154" y="1022.7">12</text><text class="sc" x="158" y="1017.9">2</text><text class="sc" x="158" y="1027.5">0</text></g>
<g id="m13"><text class="lb" x="100" y="1122.7">5/4 三木④</text><text class="mn e" x="154" y="1122.7">13</text><text class="sc" x="158" y="1117.9">1</text><text class="sc" x="158" y="1127.5">0</text></g>
<g id="m14"><text class="lb" x="100" y="1189.3">5/3 飾磨①</text><text class="mn e" x="154" y="1189.3">14</text><text class="sc" x="158" y="1184.5">5</text><text class="sc" x="158" y="1194.1">0</text></g>
<g id="m15"><text class="lb" x="100" y="1272.7">5/3 西東②</text><text class="mn e" x="154" y="1272.7">15</text><text class="sc" x="158" y="1267.9">2ex</text><text class="sc" x="158" y="1277.5">1</text></g>
<g id="m32"><text class="lb e" x="189" y="106.7">5/11 神院15:00 <tspan class="mn">32</tspan></text><text class="sc" x="193" y="101.9">2</text><text class="sc" x="193" y="111.5">0</text></g>
<g id="m33"><text class="lb e" x="189" y="140">5/11 城西① <tspan class="mn">33</tspan></text><text class="sc" x="193" y="135.2">0</text><text class="sc" x="193" y="144.8">1</text></g>
<g id="m34"><text class="lb e" x="189" y="172.7">5/10 明南① <tspan class="mn">34</tspan></text><text class="sc" x="193" y="167.9">6</text><text class="sc" x="193" y="177.5">0</text></g>
<g id="m35"><text class="lb e" x="189" y="206.7">5/10 西浜② <tspan class="mn">35</tspan></text><text class="sc" x="193" y="201.9">0</text><text class="sc" x="193" y="211.5">4</text></g>
<g id="m36"><text class="lb e" x="189" y="256">5/11 明専① <tspan class="mn">36</tspan></text><text class="sc" x="193" y="251.2">1</text><text class="sc" x="193" y="260.8">0</text></g>
<g id="m37"><text class="lb e" x="189" y="290">5/10 飾磨② <tspan class="mn">37</tspan></text><text class="sc" x="193" y="285.2">6</text><text class="sc" x="193" y="294.8">0</text></g>
<g id="m38"><text class="lb e" x="189" y="340">5/10 神専① <tspan class="mn">38</tspan></text><text class="sc" x="193" y="335.2">5</text><text class="sc" x="193" y="344.8">2</text></g>
<g id="m39"><text class="lb e" x="189" y="372.7">5/11 琴丘② <tspan class="mn">39</tspan></text><text class="sc" x="193" y="367.9">0</text><text class="sc" x="193" y="377.5">1</text></g>
<g id="m40"><text class="lb e" x="189" y="421.7">5/10 芦学④ <tspan class="mn">40</tspan></text><text class="sc" x="193" y="416.9">2ex</text><text class="sc" x="193" y="426.5">1</text></g>
<g id="m41"><text class="lb e" x="189" y="456">5/10 明南② <tspan class="mn">41</tspan></text><text class="sc" x="193" y="451.2">2</text><text class="sc" x="193" y="460.8">1</text></g>
<g id="m42"><text class="lb e" x="189" y="506">5/10 灘 ② <tspan class="mn">42</tspan></text><text class="sc" x="193" y="501.2">5</text><text class="sc" x="193" y="510.8">0</text></g>
<g id="m43"><text class="lb e" x="189" y="539.3">5/11 城西④ <tspan class="mn">43</tspan></text><text class="sc" x="193" y="534.5">0</text><text class="sc" x="193" y="544.1">6</text></g>
<g id="m44"><text class="lb e" x="189" y="589.3">5/10 丹西③ <tspan class="mn">44</tspan></text><text class="sc" x="193" y="584.5">0</text><text class="sc" x="193" y="594.1">4</text></g>
<g id="m45"><text class="lb e" x="189" y="622.7">5/10 飾磨③ <tspan class="mn">45</tspan></text><text class="sc" x="193" y="617.9">1(3)</text><text class="sc" x="193" y="627.5">1(4)</text></g>
<g id="m46"><text class="lb e" x="189" y="719.3">5/10 神専④ <tspan class="mn">46</tspan></text><text class="sc" x="193" y="714.5">0</text><text class="sc" x="193" y="724.1">1ex</text></g>
<g id="m47"><text class="lb e" x="189" y="756">5/10 丹西① <tspan class="mn">47</tspan></text><text class="sc" x="193" y="751.2">3</text><text class="sc" x="193" y="760.8">1</text></g>
<g id="m48"><text class="lb e" x="189" y="806">5/10 灘 ① <tspan class="mn">48</tspan></text><text class="sc" x="193" y="801.2">2</text><text class="sc" x="193" y="810.8">1</text></g>
<g id="m49"><text class="lb e" x="189" y="839.3">5/11 神院13:30 <tspan class="mn">49</tspan></text><text class="sc" x="193" y="834.5">9</text><text class="sc" x="193" y="844.1">0</text></g>
<g id="m50"><text class="lb e" x="189" y="889.3">5/11 社 ④ <tspan class="mn">50</tspan></text><text class="sc" x="193" y="884.5">1</text><text class="sc" x="193" y="894.1">5</text></g>
<g id="m51"><text class="lb e" x="189" y="922.7">5/11 啓明① <tspan class="mn">51</tspan></text><text class="sc" x="193" y="917.9">0</text><text class="sc" x="193" y="927.5">8</text></g>
<g id="m52"><text class="lb e" x="189" y="972.7">5/11 明専③ <tspan class="mn">52</tspan></text><text class="sc" x="193" y="967.9">2</text><text class="sc" x="193" y="977.5">0</text></g>
<g id="m53"><text class="lb e" x="189" y="1006">5/11 社 ① <tspan class="mn">53</tspan></text><text class="sc" x="193" y="1001.2">3</text><text class="sc" x="193" y="1010.8">2</text></g>
<g id="m54"><text class="lb e" x="189" y="1056">5/10 北須① <tspan class="mn">54</tspan></text><text class="sc" x="193" y="1051.2">9</text><text class="sc" x="193" y="1060.8">0</text></g>
<g id="m55"><text class="lb e" x="189" y="1089.3">5/10 西浜④ <tspan class="mn">55</tspan></text><text class="sc" x="193" y="1084.5">0</text><text class="sc" x="193" y="1094.1">1</text></g>
<g id="m56"><text class="lb e" x="189" y="1139.3">5/11 啓明② <tspan class="mn">56</tspan></text><text class="sc" x="193" y="1134.5">1</text><text class="sc" x="193" y="1144.1">2ex</text></g>
<g id="m57"><text class="lb e" x="189" y="1172.7">5/10 西東③ <tspan class="mn">57</tspan></text><text class="sc" x="193" y="1167.9">4</text><text class="sc" x="193" y="1177.5">1</text></g>
<g id="m58"><text class="lb e" x="189" y="1222.7">5/10 芦学③ <tspan class="mn">58</tspan></text><text class="sc" x="193" y="1217.9">0</text><text class="sc" x="193" y="1227.5">4</text></g>
<g id="m59"><text class="lb e" x="189" y="1256">5/11 啓明③ <tspan class="mn">59</tspan></text><text class="sc" x="193" y="1251.2">4</text><text class="sc" x="193" y="1260.8">1</text></g>
<g id="m88"><text class="lb e" x="213" y="76.7">5/18 弘陵①</text><text class="mn e" x="228.5" y="81">88</text></g>
<g id="m89"><text class="lb e" x="213" y="156">5/17 明南①</text><text class="mn e" x="228.5" y="156.7">89</text><text class="sc" x="232" y="151.9">2</text><text class="sc" x="232" y="161.5">0</text></g>
<g id="m90"><text class="lb e" x="213" y="237">5/18 神院15:00</text><text class="mn e" x="228.5" y="231">90</text></g>
<g id="m91"><text class="lb e" x="213" y="310">5/18 滝二②</text><text class="mn e" x="228.5" y="313.3">91</text></g>
<g id="m92"><text class="lb e" x="213" y="402.7">5/17 琴丘②</text><text class="mn e" x="228.5" y="397.7">92</text><text class="sc" x="232" y="392.9">0</text><text class="sc" x="232" y="402.5">3</text></g>
<g id="m93"><text class="lb e" x="213" y="476.7">5/17 灘 ②</text><text class="mn e" x="228.5" y="481">93</text><text class="sc" x="232" y="476.2">1</text><text class="sc" x="232" y="485.8">2</text></g>
<g id="m94"><text class="lb e" x="213" y="572.7">5/17 松聖④</text><text class="mn e" x="228.5" y="564.3">94</text><text class="sc" x="232" y="559.5">0</text><text class="sc" x="232" y="569.1">2</text></g>
<g id="m95"><text class="lb e" x="213" y="652.7">5/17 関学①</text><text class="mn e" x="228.5" y="647.7">95</text><text class="sc" x="232" y="642.9">0</text><text class="sc" x="232" y="652.5">5</text></g>
<g id="m96"><text class="lb e" x="213" y="693.3">5/18 三田①</text><text class="mn e" x="228.5" y="697.7">96</text></g>
<g id="m97"><text class="lb e" x="213" y="776.7">5/17 灘 ①</text><text class="mn e" x="228.5" y="781">97</text><text class="sc" x="232" y="776.2">2ex</text><text class="sc" x="232" y="785.8">1</text></g>
<g id="m98"><text class="lb e" x="213" y="869.3">5/18 神院13:30</text><text class="mn e" x="228.5" y="864.3">98</text></g>
<g id="m99"><text class="lb e" x="213" y="943.3">5/17 啓明①</text><text class="mn e" x="228.5" y="947.7">99</text><text class="sc" x="232" y="942.9">2</text><text class="sc" x="232" y="952.5">0</text></g>
<g id="m100"><text class="lb e" x="213" y="1035">5/17 啓明②</text><text class="mn e" x="228.5" y="1031.7">100</text><text class="sc" x="232" y="1026.9">0</text><text class="sc" x="232" y="1036.5">3</text></g>
<g id="m101"><text class="lb e" x="213" y="1110.7">5/18 西浜①</text><text class="mn e" x="228.5" y="1114.3">101</text></g>
<g id="m102"><text class="lb e" x="213" y="1201.7">5/17 芦学③</text><text class="mn e" x="228.5" y="1197.7">102</text><text class="sc" x="232" y="1192.9">0</text><text class="sc" x="232" y="1202.5">4</text></g>
<g id="m103"><text class="lb e" x="213" y="1281">5/18 滝二①</text><text class="mn e" x="228.5" y="1281">103</text></g>
<g id="m120"><text class="lb e" x="251" y="119">5/24 弘陵①</text><text class="mn e" x="266.5" y="114.3">120</text></g>
<g id="m121"><text class="lb e" x="251" y="277">5/24 西東①</text><text class="mn e" x="266.5" y="281">121</text></g>
<g id="m122"><text class="lb e" x="251" y="444.3">5/24 啓明①</text><text class="mn e" x="266.5" y="447.7">122</text></g>
<g id="m123"><text class="lb e" x="251" y="610.7">5/24 関学①</text><text class="mn e" x="266.5" y="614.3">123</text></g>
<g id="m124"><text class="lb e" x="251" y="744">5/24 姫球①</text><text class="mn e" x="266.5" y="747.7">124</text></g>
<g id="m125"><text class="lb e" x="251" y="910">5/24 啓明①</text><text class="mn e" x="266.5" y="914.3">125</text></g>
<g id="m126"><text class="lb e" x="251" y="1072.7">5/24 弘陵②</text><text class="mn e" x="266.5" y="1072.7">126</text></g>
<g id="m127"><text class="lb e" x="251" y="1239.3">5/24 滝二③</text><text class="mn e" x="266.5" y="1239.3">127</text></g>
<g id="m136"><text class="lb e" x="293" y="198.3">5/25 弘陵①</text><text class="mn e" x="306.5" y="198.3">136</text></g>
<g id="m137"><text class="lb e" x="293" y="531.7">5/25 三田④</text><text class="mn e" x="306.5" y="531.7">137</text></g>
<g id="m138"><text class="lb e" x="293" y="831.7">5/25 三田②</text><text class="mn e" x="306.5" y="831.7">138</text></g>
<g id="m139"><text class="lb e" x="293" y="1163.3">5/25 滝二①</text><text class="mn e" x="306.5" y="1163.3">139</text></g>
<g id="m144"><text class="lb e" x="334" y="356">5/31 弘陵①</text><text class="mn e" x="348.5" y="356">144</text></g>
<g id="m145"><text class="lb e" x="334" y="989">5/31 滝二①</text><text class="mn e" x="348.5" y="989">145</text></g>
<g id="m148"><text class="lb" x="297" y="673.3">6/6</text><text class="lb" x="316" y="673.3">五サ</text><text class="lb" x="340" y="673.3">11:00</text><text class="mn e" x="379.5" y="673.3">148</text></g>
</g>

<g id="matches-right">
<g id="m16"><text class="lb" x="672" y="81"><tspan class="mn">16</tspan> 5/3 丹北②</text><text class="sc e" x="667.5" y="76.2">0</text><text class="sc e" x="667.5" y="85.8">4</text></g>
<g id="m17"><text class="lb" x="672" y="164.3"><tspan class="mn">17</tspan> 5/3 尼小①</text><text class="sc e" x="667.5" y="159.5">(5)0</text><text class="sc e" x="667.5" y="169.1">(4)0</text></g>
<g id="m18"><text class="lb" x="672" y="229.3"><tspan class="mn">18</tspan> 5/3 飾磨②</text><text class="sc e" x="667.5" y="224.5">3</text><text class="sc e" x="667.5" y="234.1">0</text></g>
<g id="m19"><text class="lb" x="672" y="328.3"><tspan class="mn">19</tspan> 5/3 尼小③</text><text class="sc e" x="667.5" y="323.5">5</text><text class="sc e" x="667.5" y="333.1">0</text></g>
<g id="m20"><text class="lb" x="672" y="397.7"><tspan class="mn">20</tspan> 5/3 松聖②</text><text class="sc e" x="667.5" y="392.9">2</text><text class="sc e" x="667.5" y="402.5">1</text></g>
<g id="m21"><text class="lb" x="672" y="497.7"><tspan class="mn">21</tspan> 5/3 西東①</text><text class="sc e" x="667.5" y="492.9">1</text><text class="sc e" x="667.5" y="502.5">0</text></g>
<g id="m22"><text class="lb" x="672" y="564.3"><tspan class="mn">22</tspan> 5/3 社 ①</text><text class="sc e" x="667.5" y="559.5">2</text><text class="sc e" x="667.5" y="569.1">0</text></g>
<g id="m23"><text class="lb" x="672" y="647.7"><tspan class="mn">23</tspan> 5/3 松聖①</text><text class="sc e" x="667.5" y="642.9">7</text><text class="sc e" x="667.5" y="652.5">0</text></g>
<g id="m24"><text class="lb" x="672" y="710"><tspan class="mn">24</tspan> 5/3 社 ③</text><text class="sc e" x="667.5" y="709.7">14</text><text class="sc e" x="667.5" y="719.3">1</text></g>
<g id="m25"><text class="lb" x="672" y="797.7"><tspan class="mn">25</tspan> 5/3 西東③</text><text class="sc e" x="667.5" y="792.9">0</text><text class="sc e" x="667.5" y="802.5">2</text></g>
<g id="m26"><text class="lb" x="672" y="865"><tspan class="mn">26</tspan> 5/3 高塚②</text><text class="sc e" x="667.5" y="860.2">1</text><text class="sc e" x="667.5" y="869.8">7</text></g>
<g id="m27"><text class="lb" x="672" y="964.3"><tspan class="mn">27</tspan> 5/3 尼小②</text><text class="sc e" x="667.5" y="959.5">ex2</text><text class="sc e" x="667.5" y="969.1">1</text></g>
<g id="m28"><text class="lb" x="672" y="1030.7"><tspan class="mn">28</tspan> 5/4 三木①</text><text class="sc e" x="667.5" y="1025.9">1</text><text class="sc e" x="667.5" y="1035.5">0</text></g>
<g id="m29"><text class="lb" x="672" y="1130.7"><tspan class="mn">29</tspan> 5/3 丹北④</text><text class="sc e" x="667.5" y="1125.9">12</text><text class="sc e" x="667.5" y="1135.5">0</text></g>
<g id="m30"><text class="lb" x="672" y="1197.3"><tspan class="mn">30</tspan> 5/3 松聖③</text><text class="sc e" x="667.5" y="1192.5">0</text><text class="sc e" x="667.5" y="1202.1">1</text></g>
<g id="m31"><text class="lb" x="672" y="1280.7"><tspan class="mn">31</tspan> 5/3 飾磨①</text><text class="sc e" x="667.5" y="1275.9">4</text><text class="sc e" x="667.5" y="1285.5">2</text></g>
<g id="m60"><text class="lb" x="637" y="98.3"><tspan class="mn">60</tspan> 5/10 神専①</text><text class="sc e" x="632.5" y="93.5">0</text><text class="sc e" x="632.5" y="103.1">1</text></g>
<g id="m61"><text class="lb" x="637" y="131"><tspan class="mn">61</tspan> 5/11 城西①</text><text class="sc e" x="632.5" y="126.2">0</text><text class="sc e" x="632.5" y="135.8">3</text></g>
<g id="m62"><text class="lb" x="637" y="181.7"><tspan class="mn">62</tspan> 5/10 松聖②</text><text class="sc e" x="632.5" y="176.9">6</text><text class="sc e" x="632.5" y="186.5">0</text></g>
<g id="m63"><text class="lb" x="637" y="213.3"><tspan class="mn">63</tspan> 5/11 琴丘①</text><text class="sc e" x="632.5" y="208.5">7</text><text class="sc e" x="632.5" y="218.1">0</text></g>
<g id="m64"><text class="lb" x="637" y="264.3"><tspan class="mn">64</tspan> 5/10 丹西④</text><text class="sc e" x="632.5" y="259.5">2</text><text class="sc e" x="632.5" y="269.1">1</text></g>
<g id="m65"><text class="lb" x="637" y="294.3"><tspan class="mn">65</tspan> 5/11 明専②</text><text class="sc e" x="632.5" y="291">2</text><text class="sc e" x="632.5" y="300.6">1</text></g>
<g id="m66"><text class="lb" x="637" y="347.3"><tspan class="mn">66</tspan> 5/10 県伊①</text><text class="sc e" x="632.5" y="342.5">1</text><text class="sc e" x="632.5" y="352.1">ex2</text></g>
<g id="m67"><text class="lb" x="637" y="381"><tspan class="mn">67</tspan> 5/10 北須①</text><text class="sc e" x="632.5" y="376.2">1</text><text class="sc e" x="632.5" y="385.8">6</text></g>
<g id="m68"><text class="lb" x="637" y="431"><tspan class="mn">68</tspan> 5/11 琴丘④</text><text class="sc e" x="632.5" y="426.2">1</text><text class="sc e" x="632.5" y="435.8">0</text></g>
<g id="m69"><text class="lb" x="637" y="464.3"><tspan class="mn">69</tspan> 5/10 県伊④</text><text class="sc e" x="632.5" y="459.5">1</text><text class="sc e" x="632.5" y="469.1">0</text></g>
<g id="m70"><text class="lb" x="637" y="514.3"><tspan class="mn">70</tspan> 5/10 西東①</text><text class="sc e" x="632.5" y="509.5">8</text><text class="sc e" x="632.5" y="519.1">1</text></g>
<g id="m71"><text class="lb" x="637" y="547.7"><tspan class="mn">71</tspan> 5/11 社 ①</text><text class="sc e" x="632.5" y="542.9">0</text><text class="sc e" x="632.5" y="552.5">8</text></g>
<g id="m72"><text class="lb" x="637" y="597.7"><tspan class="mn">72</tspan> 5/10 北須④</text><text class="sc e" x="632.5" y="592.9">1</text><text class="sc e" x="632.5" y="602.5">3</text></g>
<g id="m73"><text class="lb" x="637" y="631"><tspan class="mn">73</tspan> 5/10 松聖①</text><text class="sc e" x="632.5" y="626.2">1</text><text class="sc e" x="632.5" y="635.8">4</text></g>
<g id="m74"><text class="lb" x="637" y="731"><tspan class="mn">74</tspan> 5/10 北須②</text><text class="sc e" x="632.5" y="726.2">(6)1</text><text class="sc e" x="632.5" y="735.8">(7)1</text></g>
<g id="m75"><text class="lb" x="637" y="764.3"><tspan class="mn">75</tspan> 5/10 飾磨④</text><text class="sc e" x="632.5" y="759.5">(5)3</text><text class="sc e" x="632.5" y="769.1">(4)3</text></g>
<g id="m76"><text class="lb" x="637" y="814.3"><tspan class="mn">76</tspan> 5/10 西浜①</text><text class="sc e" x="632.5" y="809.5">0</text><text class="sc e" x="632.5" y="819.1">1</text></g>
<g id="m77"><text class="lb" x="637" y="847.7"><tspan class="mn">77</tspan> 5/10 西東③</text><text class="sc e" x="632.5" y="842.9">4</text><text class="sc e" x="632.5" y="852.5">0</text></g>
<g id="m78"><text class="lb" x="637" y="897.7"><tspan class="mn">78</tspan> 5/10 丹西②</text><text class="sc e" x="632.5" y="892.9">2</text><text class="sc e" x="632.5" y="902.5">1</text></g>
<g id="m79"><text class="lb" x="637" y="931"><tspan class="mn">79</tspan> 5/11 琴丘①</text><text class="sc e" x="632.5" y="926.2">4</text><text class="sc e" x="632.5" y="935.8">1</text></g>
<g id="m80"><text class="lb" x="637" y="981"><tspan class="mn">80</tspan> 5/11 明専④</text><text class="sc e" x="632.5" y="976.2">2</text><text class="sc e" x="632.5" y="985.8">0</text></g>
<g id="m81"><text class="lb" x="637" y="1015"><tspan class="mn">81</tspan> 5/11 城西②</text><text class="sc e" x="632.5" y="1010.2">ex1</text><text class="sc e" x="632.5" y="1019.8">0</text></g>
<g id="m82"><text class="lb" x="637" y="1064"><tspan class="mn">82</tspan> 5/11 社 ②</text><text class="sc e" x="632.5" y="1059.2">2</text><text class="sc e" x="632.5" y="1068.8">1</text></g>
<g id="m83"><text class="lb" x="637" y="1097.3"><tspan class="mn">83</tspan> 5/10 神専②</text><text class="sc e" x="632.5" y="1092.5">(4)0</text><text class="sc e" x="632.5" y="1102.1">(2)0</text></g>
<g id="m84"><text class="lb" x="637" y="1147.3"><tspan class="mn">84</tspan> 5/10 西浜③</text><text class="sc e" x="632.5" y="1142.5">(5)0</text><text class="sc e" x="632.5" y="1152.1">(6)0</text></g>
<g id="m85"><text class="lb" x="637" y="1181.7"><tspan class="mn">85</tspan> 5/11 啓明④</text><text class="sc e" x="632.5" y="1176.9">1</text><text class="sc e" x="632.5" y="1186.5">2</text></g>
<g id="m86"><text class="lb" x="637" y="1230.7"><tspan class="mn">86</tspan> 5/10 西東②</text><text class="sc e" x="632.5" y="1225.9">2</text><text class="sc e" x="632.5" y="1235.5">3</text></g>
<g id="m87"><text class="lb" x="637" y="1264.3"><tspan class="mn">87</tspan> 5/10 飾磨①</text><text class="sc e" x="632.5" y="1259.5">0</text><text class="sc e" x="632.5" y="1269.1">2</text></g>
<g id="m104"><text class="mn" x="599.7" y="71.7">104</text><text class="lb" x="614" y="69">5/18 滝二④</text></g>
<g id="m105"><text class="lb" x="599.7" y="155"><tspan class="mn">105</tspan> 5/17 社 ③</text><text class="sc e" x="593" y="150.2">0</text><text class="sc e" x="593" y="159.8">2</text></g>
<g id="m106"><text class="mn" x="599.7" y="239.3">106</text><text class="lb" x="614" y="244">5/17 琴丘①</text><text class="sc e" x="593" y="234.5">1</text><text class="sc e" x="593" y="244.1">ex2</text></g>
<g id="m107"><text class="mn" x="599.7" y="322.7">107</text><text class="lb" x="614" y="318">5/18 西浜④</text></g>
<g id="m108"><text class="lb" x="599.7" y="410"><tspan class="mn">108</tspan> 5/17 関学②</text><text class="sc e" x="593" y="405.2">1</text><text class="sc e" x="593" y="414.8">0</text></g>
<g id="m109"><text class="lb" x="599.7" y="486"><tspan class="mn">109</tspan> 5/17 芦学④</text><text class="sc e" x="593" y="481.2">0</text><text class="sc e" x="593" y="490.8">5</text></g>
<g id="m110"><text class="lb" x="599.7" y="577.7"><tspan class="mn">110</tspan> 5/17 社 ①</text><text class="sc e" x="593" y="572.9">1</text><text class="sc e" x="593" y="582.5">2</text></g>
<g id="m111"><text class="lb" x="599.7" y="661"><tspan class="mn">111</tspan> 5/17 松聖③</text><text class="sc e" x="593" y="656.2">0</text><text class="sc e" x="593" y="665.8">ex1</text></g>
<g id="m112"><text class="mn" x="599.7" y="706">112</text><text class="lb" x="614" y="702.7">5/18 三田②</text></g>
<g id="m113"><text class="mn" x="599.7" y="789.3">113</text><text class="lb" x="614" y="786">5/18 西浜①</text></g>
<g id="m114"><text class="mn" x="599.7" y="872.7">114</text><text class="lb" x="614" y="877.7">5/18 弘陵②</text></g>
<g id="m115"><text class="lb" x="599.7" y="953"><tspan class="mn">115</tspan> 5/17 社 ②</text><text class="sc e" x="593" y="950.2">1</text><text class="sc e" x="593" y="959.8">0</text></g>
<g id="m116"><text class="lb" x="599.7" y="1043"><tspan class="mn">116</tspan> 5/17 社 ④</text><text class="sc e" x="593" y="1035.2">8</text><text class="sc e" x="593" y="1044.8">0</text></g>
<g id="m117"><text class="mn" x="599.7" y="1119">117</text><text class="lb" x="614" y="1118">5/18 滝二②</text></g>
<g id="m118"><text class="lb" x="599.7" y="1210.7"><tspan class="mn">118</tspan> 5/17 明南④</text><text class="sc e" x="593" y="1205.9">0</text><text class="sc e" x="593" y="1215.5">3</text></g>
<g id="m119"><text class="mn" x="599.7" y="1289">119</text><text class="lb" x="614" y="1294">5/18 西浜②</text></g>
<g id="m128"><text class="lb" x="557" y="114.3"><tspan class="mn">128</tspan> 5/24 関学②</text></g>
<g id="m129"><text class="lb" x="557" y="281"><tspan class="mn">129</tspan> 5/24 姫球②</text></g>
<g id="m130"><text class="lb" x="557" y="447.7"><tspan class="mn">130</tspan> 5/24 西東②</text></g>
<g id="m131"><text class="lb" x="557" y="614.3"><tspan class="mn">131</tspan> 5/24 松聖③</text></g>
<g id="m132"><text class="lb" x="557" y="748.3"><tspan class="mn">132</tspan> 5/24 滝二④</text></g>
<g id="m133"><text class="lb" x="557" y="913.3"><tspan class="mn">133</tspan> 5/24 松聖④</text></g>
<g id="m134"><text class="lb" x="557" y="1080"><tspan class="mn">134</tspan> 5/24 啓明②</text></g>
<g id="m135"><text class="lb" x="557" y="1247.7"><tspan class="mn">135</tspan> 5/24 姫球①</text></g>
<g id="m140"><text class="mn" x="514" y="198.3">140</text><text class="lb" x="532" y="198.3">5/25 弘陵②</text></g>
<g id="m141"><text class="mn" x="514" y="531.7">141</text><text class="lb" x="532" y="531.7">5/25 松聖③</text></g>
<g id="m142"><text class="mn" x="514" y="831.7">142</text><text class="lb" x="532" y="831.7">5/25 滝二④</text></g>
<g id="m143"><text class="mn" x="514" y="1163.3">143</text><text class="lb" x="532" y="1163.3">5/25 松聖④</text></g>
<g id="m146"><text class="mn" x="475" y="356">146</text><text class="lb" x="497" y="356">5/31 滝二②</text></g>
<g id="m147"><text class="mn" x="475" y="990">147</text><text class="lb" x="497" y="990">5/31 弘陵②</text></g>
<g id="m149"><text class="mn" x="443.5" y="673.3">149</text><text class="lb" x="460" y="673.3">6/6</text><text class="lb" x="478" y="673.3">五サ</text><text class="lb" x="507" y="673.3">13:00</text></g>
</g>

<g id="m150">
<text class="lg c" x="411.7" y="656">決 勝</text>
<text class="mn c" x="411.7" y="679">150</text>
<text class="lg c" x="411.7" y="697.7">6/8</text>
<text class="lg c" x="411.7" y="711.7">三陸 11:00</text>
</g>
<g id="m151">
<text class="lg c" x="411.7" y="747.7">三 決</text>
<text class="mn c" x="411.7" y="770">151</text>
<text class="lg c" x="411.7" y="789.3">6/8</text>
<text class="lg c" x="411.7" y="803.3">三陸 13:00</text>
</g>

<g id="schedule">
<text class="lg" x="361.7" y="72.7">5/ 3(土)</text>
<text class="lg" x="361.7" y="90">5/ 4(日)</text>
<text class="lg" x="361.7" y="106">5/10(土)</text>
<text class="lg" x="361.7" y="122.7">5/11(日)</text>
<text class="lg" x="361.7" y="139.3">5/17(土)</text>
<text class="lg" x="361.7" y="156">5/18(日)</text>
<text class="lg" x="361.7" y="172.7">5/24(土)</text>
<text class="lg" x="361.7" y="189.3">5/25(日)</text>
<text class="lg" x="361.7" y="206">5/31(土)</text>
<text class="lg" x="361.7" y="222.7">6/ 6(金)</text>
<text class="lg" x="361.7" y="239.3">6/ 8(日)</text>
<text class="lg" x="411.7" y="81.7" textLength="27" lengthAdjust="spacing">1 回 戦</text>
<text class="lg" x="411.7" y="114" textLength="27" lengthAdjust="spacing">2 回 戦</text>
<text class="lg" x="411.7" y="147.7" textLength="27" lengthAdjust="spacing">3 回 戦</text>
<text class="lg" x="411.7" y="172.7" textLength="27" lengthAdjust="spacing">4 回 戦</text>
<text class="lg" x="411.7" y="189.3" textLength="27" lengthAdjust="spacing">5 回 戦</text>
<text class="lg" x="411.7" y="206" textLength="27" lengthAdjust="spacing">準々決勝</text>
<text class="lg" x="411.7" y="222.7" textLength="27" lengthAdjust="spacing">準 決 勝</text>
<text class="lg" x="411.7" y="239.3" textLength="27" lengthAdjust="spacing">決勝･三決</text>
<text class="lg c" x="415" y="269.3">(開始時間)</text>
<text class="lg c" x="412" y="289.3">① …… 10:00</text>
<text class="lg c" x="412" y="306">② …… 11:30</text>
<text class="lg c" x="412" y="322.7">③ …… 13:00</text>
<text class="lg c" x="412" y="339.3">④ …… 14:30</text>
</g>

<g id="venues">
<text class="vn c" x="416.7" y="1068.3" style="font-size:6px">〈会場〉</text>
<text class="vn" x="362.7" y="1077.3"><tspan x="362.7" y="1077.3">三陸…三木総合防災公園陸上競技場</tspan><tspan x="362.7" dy="8.35">五サ…アスパ五色サブグラウンド</tspan><tspan x="362.7" dy="8.35">西浜…西宮浜総合公園ベイコムフィールド</tspan><tspan x="362.7" dy="8.35">姫球…姫路球技スポーツセンター</tspan><tspan x="362.7" dy="8.35">明専…国立明石工業高等専門学校</tspan><tspan x="362.7" dy="8.35">城西…県立明石城西高等学校</tspan><tspan x="362.7" dy="8.35">明南…県立明石南高等学校</tspan><tspan x="362.7" dy="8.35">芦学…芦屋学園総合光町人工芝グラウンド</tspan><tspan x="362.7" dy="8.35">尼小…県立尼崎小田高等学校</tspan><tspan x="362.7" dy="8.35">県伊…県立伊丹高等学校</tspan><tspan x="362.7" dy="8.35">丹北…県立伊丹北高等学校</tspan><tspan x="362.7" dy="8.35">丹西…県立伊丹西高等学校</tspan><tspan x="362.7" dy="8.35">関学…関西学院大学第1フィールド</tspan><tspan x="362.7" dy="8.35">北須…県立北須磨高等学校</tspan><tspan x="362.7" dy="8.35">啓明…啓明学院高等学校</tspan><tspan x="362.7" dy="8.35">神院…神戸学院グラウンド</tspan><tspan x="362.7" dy="8.35">弘陵…神戸弘陵学園高等学校</tspan><tspan x="362.7" dy="8.35">高塚…県立神戸高塚高等学校</tspan><tspan x="362.7" dy="8.35">神専…神戸市立工業高等専門学校</tspan><tspan x="362.7" dy="8.35">琴丘…姫路市立琴丘高等学校</tspan><tspan x="362.7" dy="8.35">三田…三田学園高等学校</tspan><tspan x="362.7" dy="8.35">松聖…三田松聖高等学校</tspan><tspan x="362.7" dy="8.35">飾磨…姫路市立飾磨高等学校</tspan><tspan x="362.7" dy="8.35">滝二…滝川第二高等学校</tspan><tspan x="362.7" dy="8.35">灘　…灘高等学校</tspan><tspan x="362.7" dy="8.35">西東…西宮市立西宮東高等学校</tspan><tspan x="362.7" dy="8.35">三木…県立三木高等学校</tspan><tspan x="362.7" dy="8.35">社　…県立社高等学校</tspan></text>
</g>
</svg>
